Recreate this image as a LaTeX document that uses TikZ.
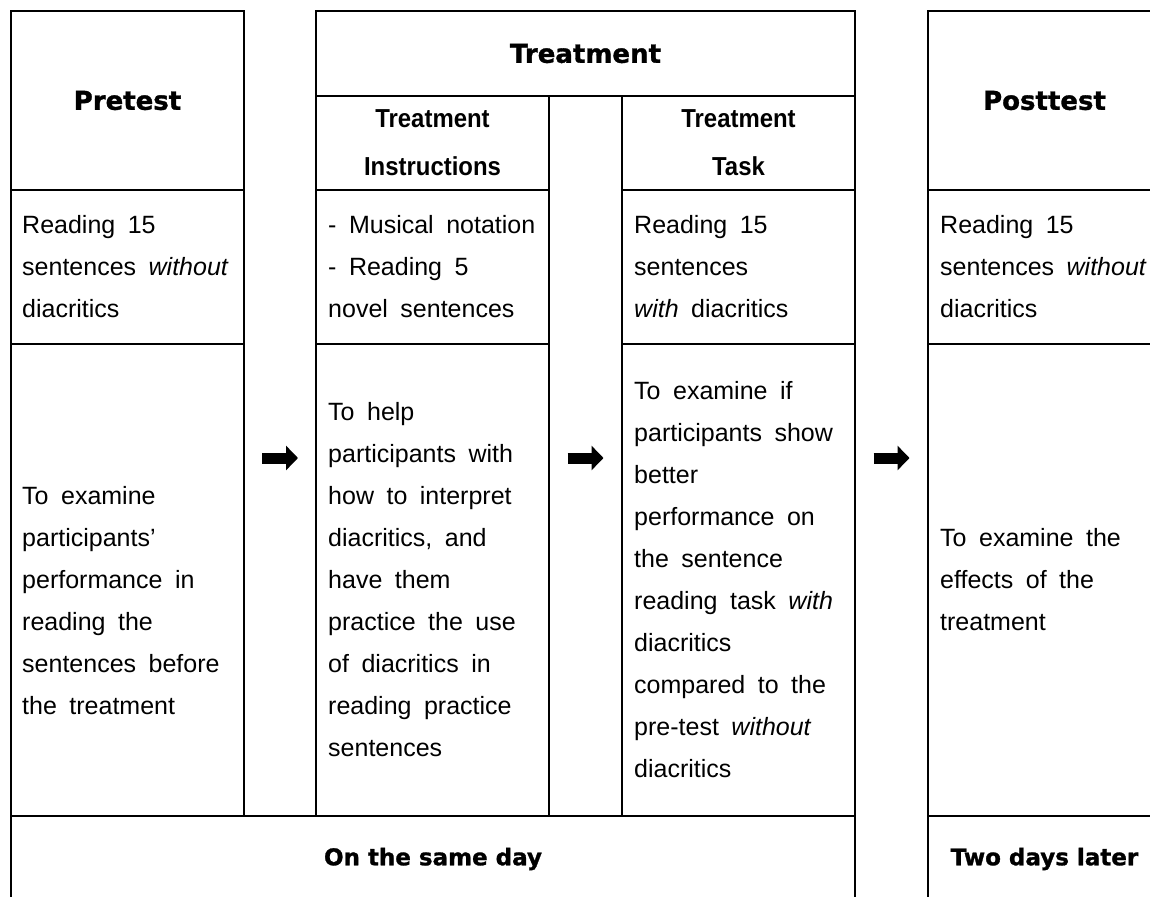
\documentclass[tikz,border=0pt]{standalone}
\usepackage{fontspec}
\setmainfont{Liberation Sans}
\newfontfamily\heavyfont{DejaVu Sans}[FakeBold=1.2]
\newfontfamily\narrowfont{Liberation Sans}[FakeStretch=0.92]
\usetikzlibrary{arrows.meta, positioning, calc}
\newcommand{\bodytxt}{\fontsize{25}{42}\selectfont\spaceskip=12.5pt\relax}

\begin{document}
\begin{tikzpicture}[
    x=1pt, y=-1pt,
    cell/.style={draw, line width=1.8pt, inner sep=0pt, outer sep=0pt, align=center},
    headcell/.style={cell, font=\heavyfont\bfseries\fontsize{26}{30}\selectfont},
    subcell/.style={cell, font=\narrowfont\bfseries\fontsize{26}{48}\selectfont},
    daycell/.style={cell, font=\heavyfont\bfseries\fontsize{23}{28}\selectfont},
    body/.style={anchor=west, align=left, inner sep=0pt, font=\bodytxt},
    fatarr/.style={-{Triangle[length=12pt, width=24pt]}, line width=11pt},
]
\useasboundingbox (0,0) rectangle (1150,896);

% Pretest column
\node[headcell, minimum width=233pt, minimum height=179pt, anchor=north west]
    (preHead) at (11,11) {Pretest};
\node[cell, minimum width=233pt, minimum height=154pt, below=0pt of preHead] (preRead) {};
\node[cell, minimum width=233pt, minimum height=472pt, below=0pt of preRead] (preAim) {};

% Treatment column
\node[headcell, minimum width=539pt, minimum height=85pt, anchor=north west]
    (trHead) at ([xshift=72pt]preHead.north east) {Treatment};
\node[subcell, minimum width=233pt, minimum height=94pt, anchor=north west]
    (instrHead) at (trHead.south west) {Treatment\\Instructions};
\node[cell, minimum width=73pt, minimum height=720pt, anchor=north west]
    (gapMid) at (instrHead.north east) {};
\node[subcell, minimum width=233pt, minimum height=94pt, anchor=north west]
    (taskHead) at (gapMid.north east) {Treatment\\Task};
\node[cell, minimum width=233pt, minimum height=154pt, below=0pt of instrHead] (instrRead) {};
\node[cell, minimum width=233pt, minimum height=472pt, below=0pt of instrRead] (instrAim) {};
\node[cell, minimum width=233pt, minimum height=154pt, below=0pt of taskHead] (taskRead) {};
\node[cell, minimum width=233pt, minimum height=472pt, below=0pt of taskRead] (taskAim) {};

% Posttest column
\node[headcell, minimum width=233pt, minimum height=179pt, anchor=north west]
    (postHead) at ([xshift=73pt]trHead.north east) {Posttest};
\node[cell, minimum width=233pt, minimum height=154pt, below=0pt of postHead] (postRead) {};
\node[cell, minimum width=233pt, minimum height=472pt, below=0pt of postRead] (postAim) {};

% Bottom row
\node[daycell, minimum width=844pt, minimum height=86pt, anchor=north west]
    (sameDay) at (preAim.south west) {On the same day};
\node[daycell, minimum width=233pt, minimum height=86pt, anchor=north west]
    (twoDays) at (postAim.south west) {Two days later};

% Cell texts
\node[body] (preReadTxt) at ([xshift=11pt]preRead.west)
    {Reading 15\\sentences \textit{without}\\diacritics};
\node[body] (preAimTxt) at ([xshift=11pt, yshift=-21pt]preAim.west)
    {To examine\\participants'\\performance in\\reading the\\sentences before\\the treatment};
\node[body] (instrReadTxt) at ([xshift=12pt]instrRead.west)
    {- Musical notation\\- Reading 5\\novel sentences};
\node[body] (instrAimTxt) at ([xshift=12pt]instrAim.west)
    {To help\\participants with\\how to interpret\\diacritics, and\\have them\\practice the use\\of diacritics in\\reading practice\\sentences};
\node[body] (taskReadTxt) at ([xshift=12pt]taskRead.west)
    {Reading 15\\sentences\\\textit{with} diacritics};
\node[body] (taskAimTxt) at ([xshift=12pt]taskAim.west)
    {To examine if\\participants show\\better\\performance on\\the sentence\\reading task \textit{with}\\diacritics\\compared to the\\pre-test \textit{without}\\diacritics};
\node[body] (postReadTxt) at ([xshift=12pt]postRead.west)
    {Reading 15\\sentences \textit{without}\\diacritics};
\node[body] (postAimTxt) at ([xshift=12pt]postAim.west)
    {To examine the\\effects of the\\treatment};

% Arrows
\coordinate (arrM) at ([yshift=-2pt]gapMid.center);
\path (preAim.east) -- (instrAim.west) coordinate[pos=0.5] (gapL);
\path (taskAim.east) -- (postAim.west) coordinate[pos=0.5] (gapR);
\coordinate (arrL) at (gapL |- arrM);
\coordinate (arrR) at (gapR |- arrM);
\foreach \a in {arrL, arrM, arrR}
    \draw[fatarr] ([xshift=-18pt]\a) -- ([xshift=18pt]\a);

\end{tikzpicture}
\end{document}
